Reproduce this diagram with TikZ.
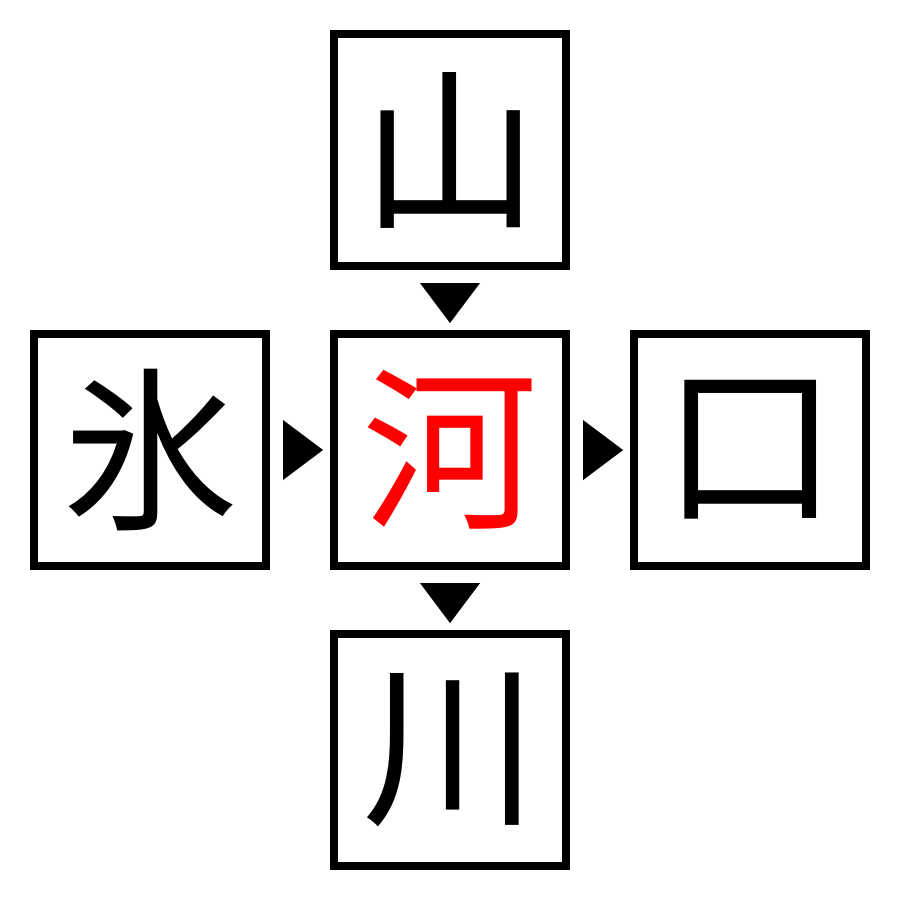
\documentclass[tikz,border=0pt]{standalone}
\usepackage{fontspec}
\newfontfamily\cjk{Noto Sans CJK JP}
\usetikzlibrary{calc}
\tikzset{
  cell/.style={draw=black, line width=0.08cm, minimum size=2.32cm, inner sep=0pt, fill=white,
    font=\cjk\fontsize{50}{50}\selectfont},
  hint/.style={fill=black}
}
\begin{document}
\begin{tikzpicture}[x=0.01cm,y=-0.01cm]
\fill[white] (0,0) rectangle (900,900);
\useasboundingbox (0,0) rectangle (900,900);
\node[cell] (top) at (450,150) {山};
\node[cell] (left) at (150,450) {氷};
\node[cell, text=red] (mid) at (450,450) {河};
\node[cell] (right) at (750,450) {口};
\node[cell] (bot) at (450,750) {川};
% down arrows
\fill[hint] ($(top.south)+(-30,13)$) -- ($(top.south)+(30,13)$) -- ($(top.south)+(0,53)$) -- cycle;
\fill[hint] ($(mid.south)+(-30,13)$) -- ($(mid.south)+(30,13)$) -- ($(mid.south)+(0,53)$) -- cycle;
% right arrows
\fill[hint] ($(left.east)+(13,-30)$) -- ($(left.east)+(13,30)$) -- ($(left.east)+(53,0)$) -- cycle;
\fill[hint] ($(mid.east)+(13,-30)$) -- ($(mid.east)+(13,30)$) -- ($(mid.east)+(53,0)$) -- cycle;
\end{tikzpicture}
\end{document}
